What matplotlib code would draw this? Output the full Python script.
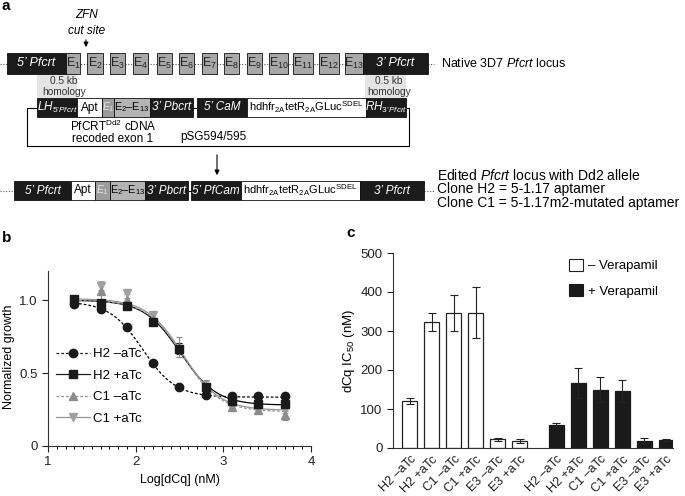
import numpy as np
import matplotlib
matplotlib.use('Agg')
import matplotlib.pyplot as plt
from matplotlib.patches import Rectangle, Patch
from matplotlib.lines import Line2D

plt.rcParams['font.family'] = ['Liberation Sans', 'DejaVu Sans']
plt.rcParams['mathtext.fontset'] = 'custom'
plt.rcParams['mathtext.rm'] = 'Liberation Sans'
plt.rcParams['mathtext.it'] = 'Liberation Sans:italic'
plt.rcParams['mathtext.bf'] = 'Liberation Sans:bold'
plt.rcParams['font.size'] = 9

### Panel b: dose response (normalized growth vs log[dCq])
log_dcq = [1.3, 1.6, 1.9, 2.2, 2.5, 2.8, 3.1, 3.4, 3.7]
h2_minus = [0.977, 0.94, 0.817, 0.572, 0.405, 0.352, 0.34, 0.34, 0.343]
h2_minus_err = [0.01, 0.01, 0.01, 0.01, 0.01, 0.01, 0.01, 0.01, 0.01]
h2_plus = [1.005, 0.984, 0.96, 0.85, 0.668, 0.405, 0.307, 0.29, 0.286]
h2_plus_err = [0.02, 0.02, 0.01, 0.02, 0.04, 0.02, 0.01, 0.01, 0.01]
c1_minus = [1.0, 1.06, 1.0, 0.874, 0.68, 0.405, 0.268, 0.245, 0.21]
c1_minus_err = [0.03, 0.06, 0.04, 0.04, 0.07, 0.05, 0.02, 0.02, 0.03]
c1_plus = [1.0, 1.1, 1.046, 0.897, 0.657, 0.405, 0.268, 0.245, 0.245]
c1_plus_err = [0.03, 0.03, 0.03, 0.03, 0.05, 0.04, 0.02, 0.02, 0.02]
### fitted curve parameters: top, bottom, logIC50, hill
fit_h2_minus = [0.99, 0.335, 2.08, 2.3]
fit_h2_plus = [1.0, 0.28, 2.51, 2.1]
fit_c1_minus = [1.0, 0.235, 2.54, 2.1]
fit_c1_plus = [1.01, 0.245, 2.54, 2.1]

### Panel c: dCq IC50 with / without verapamil
bar_labels = ['H2 –aTc', 'H2 +aTc', 'C1 –aTc', 'C1 +aTc', 'E3 –aTc', 'E3 +aTc']
no_vera = [120, 323, 347, 347, 22, 19]
no_vera_err = [8, 22, 46, 66, 4, 5]
vera = [59, 166, 150, 147, 19, 20]
vera_err = [5, 38, 33, 28, 6, 3]


def logistic(x, p):
    top, bottom, x50, hill = p
    return bottom + (top - bottom) / (1 + 10 ** ((x - x50) * hill))


fig = plt.figure(figsize=(6.85, 4.96), dpi=100)

### overlay axes in pixel coords for the schematic
ax_a = fig.add_axes([0, 0, 1, 1])
ax_a.set_xlim(0, 685)
ax_a.set_ylim(496, 0)
ax_a.axis('off')
ax_a.patch.set_alpha(0)

BLACK = '#1b1b1b'
EXON = '#a8a8a8'


def box(x0, x1, yc, h, fc, label='', tc='white', style='italic', fs=8.5):
    ax_a.add_patch(Rectangle((x0, yc - h / 2), x1 - x0, h, facecolor=fc,
                             edgecolor='#111111', lw=0.6, zorder=2))
    if label:
        ax_a.text((x0 + x1) / 2, yc, label, color=tc, fontsize=fs, style=style,
                  ha='center', va='center', zorder=3)


def dotted(x0, x1, y):
    ax_a.plot([x0, x1], [y, y], ls=(0, (1, 1.5)), color='#555555', lw=0.8, zorder=1)


ax_a.text(2, 6, 'a', fontsize=11, fontweight='bold', ha='left', va='center')
ax_a.text(2, 238, 'b', fontsize=11, fontweight='bold', ha='left', va='center')
ax_a.text(346, 233, 'c', fontsize=11, fontweight='bold', ha='left', va='center')

### native locus
y1 = 63.5
dotted(0, 434, y1)
box(7, 66, y1, 21, BLACK, '5’ Pfcrt', fs=9)
exon_x = [(66, 80), (87, 103), (110, 125), (133, 148), (157, 172), (179, 194), (202, 217),
          (224, 239), (247, 262), (269, 288), (293, 313), (319, 339), (345, 363)]
for k, (x0, x1) in enumerate(exon_x):
    box(x0, x1, y1, 21, EXON, 'E$_\\mathregular{%d}$' % (k + 1), tc='#222222', style='normal', fs=9)
box(363, 428, y1, 21, BLACK, '3’ Pfcrt', fs=9)
ax_a.text(441, y1, 'Native 3D7 $\\mathit{Pfcrt}$ locus', fontsize=9, ha='left', va='center')

ax_a.text(87, 15, 'ZFN', fontsize=8.5, style='italic', ha='center', va='center')
ax_a.text(87, 31, 'cut site', fontsize=8.5, style='italic', ha='center', va='center')
ax_a.annotate('', xy=(86, 50), xytext=(86, 37),
              arrowprops=dict(arrowstyle='-|>', color='k', lw=0.8, mutation_scale=7))

### homology shading
for x0, x1, xt in [(37, 77, 64), (365, 406, 389)]:
    ax_a.add_patch(Rectangle((x0, 74), x1 - x0, 24, facecolor='#e4e4e4', edgecolor='none', zorder=0))
    ax_a.text(xt, 81, '0.5 kb', fontsize=7.3, color='#333333', ha='center', va='center')
    ax_a.text(xt, 92, 'homology', fontsize=7.3, color='#333333', ha='center', va='center')

### plasmid
y2 = 107.5
ax_a.plot([37, 27, 27, 409, 409, 406], [y2, y2, 146, 146, y2, y2], color='k', lw=0.8, zorder=1)
ax_a.plot([193, 197], [y2, y2], color='k', lw=0.8, zorder=1)
box(37, 77, y2, 19.5, BLACK, '$\\mathit{LH}_{\\mathit{5’Pfcrt}}$')
box(77, 102, y2, 19.5, 'white', 'Apt', tc='k', style='normal')
box(102, 114, y2, 19.5, '#9c9c9c', '$\\mathit{E}_{\\mathit{1}}$', tc='#e6e6e6', fs=7.5)
box(114, 150, y2, 19.5, '#b4b4b4', 'E$_\\mathregular{2}$–E$_\\mathregular{13}$', tc='k', style='normal', fs=7.8)
box(150, 193, y2, 19.5, BLACK, '3’ Pbcrt')
box(197, 247, y2, 19.5, BLACK, '5’ CaM')
box(247, 366, y2, 19.5, 'white',
    'hdhfr$_\\mathregular{2A}$tetR$_\\mathregular{2A}$GLuc$^\\mathregular{SDEL}$', tc='k', style='normal', fs=8)
box(366, 406, y2, 19.5, BLACK, '$\\mathit{RH}_{\\mathit{3’Pfcrt}}$')
ax_a.text(113, 126, 'PfCRT$^\\mathregular{Dd2}$ cDNA', fontsize=8.5, ha='center', va='center')
ax_a.text(113, 139, 'recoded exon 1', fontsize=8.5, ha='center', va='center')
ax_a.text(213, 137, 'pSG594/595', fontsize=8.5, ha='center', va='center')
ax_a.annotate('', xy=(217, 178), xytext=(217, 152),
              arrowprops=dict(arrowstyle='-|>', color='k', lw=0.8, mutation_scale=7))

### edited locus
y3 = 190.5
dotted(0, 14, y3)
dotted(424, 434, y3)
ax_a.plot([188, 191], [y3, y3], color='k', lw=0.8, zorder=1)
box(14, 71, y3, 19.5, BLACK, '5’ Pfcrt')
box(71, 95, y3, 19.5, 'white', 'Apt', tc='k', style='normal')
box(95, 110, y3, 19.5, '#9c9c9c', '$\\mathit{E}_{\\mathit{1}}$', tc='#e6e6e6', fs=7.5)
box(110, 145, y3, 19.5, '#b4b4b4', 'E$_\\mathregular{2}$–E$_\\mathregular{13}$', tc='k', style='normal', fs=7.8)
box(145, 188, y3, 19.5, BLACK, '3’ Pbcrt')
box(191, 241, y3, 19.5, BLACK, '5’ PfCam')
box(241, 360, y3, 19.5, 'white',
    'hdhfr$_\\mathregular{2A}$tetR$_\\mathregular{2A}$GLuc$^\\mathregular{SDEL}$', tc='k', style='normal', fs=8)
box(360, 424, y3, 19.5, BLACK, '3’ Pfcrt')
ax_a.text(437, 175, 'Edited $\\mathit{Pfcrt}$ locus with Dd2 allele', fontsize=10, ha='left', va='center')
ax_a.text(437, 189, 'Clone H2 = 5-1.17 aptamer', fontsize=10, ha='left', va='center')
ax_a.text(437, 203, 'Clone C1 = 5-1.17m2-mutated aptamer', fontsize=10, ha='left', va='center')

### Panel b
ax_b = fig.add_axes([48 / 685, 50 / 496, 263 / 685, 175 / 496])
ax_b.patch.set_alpha(0)
xs = np.linspace(log_dcq[0], log_dcq[-1], 200)
gray = '#959595'
ax_b.plot(xs, logistic(xs, fit_h2_minus), color='k', lw=0.9, ls=(0, (2.2, 1.6)))
ax_b.plot(xs, logistic(xs, fit_h2_plus), color='k', lw=0.9)
ax_b.plot(xs, logistic(xs, fit_c1_minus), color=gray, lw=0.9, ls=(0, (2.2, 1.6)))
ax_b.plot(xs, logistic(xs, fit_c1_plus), color=gray, lw=0.9)
ekw = dict(ls='none', capsize=2.5, elinewidth=0.8, capthick=0.8)
ax_b.errorbar(log_dcq, c1_plus, yerr=c1_plus_err, marker='v', ms=6, color='#a0a0a0', **ekw)
ax_b.errorbar(log_dcq, c1_minus, yerr=c1_minus_err, marker='^', ms=6, color='#8c8c8c', **ekw)
ax_b.errorbar(log_dcq, h2_plus, yerr=h2_plus_err, marker='s', ms=5.5, color='#1a1a1a', **ekw)
ax_b.errorbar(log_dcq, h2_minus, yerr=h2_minus_err, marker='o', ms=6, color='#1a1a1a', **ekw)
ax_b.set_xlim(1, 4)
ax_b.set_ylim(0, 1.2)
ax_b.set_xticks([1, 2, 3, 4])
ax_b.set_xticks(np.arange(1.1, 4.0, 0.1), minor=True)
ax_b.set_yticks([0, 0.5, 1.0])
ax_b.set_yticklabels(['0', '0.5', '1.0'])
ax_b.tick_params(axis='both', which='major', length=4, width=0.8, labelsize=9.5, colors='#222222')
ax_b.tick_params(axis='x', which='minor', length=2.5, width=0.7)
for s in ['top', 'right']:
    ax_b.spines[s].set_visible(False)
for s in ['left', 'bottom']:
    ax_b.spines[s].set_linewidth(0.8)
    ax_b.spines[s].set_color('#333333')
ax_b.set_xlabel('Log[dCq] (nM)', fontsize=9)
ax_b.set_ylabel('Normalized growth', fontsize=9)
ax_b.xaxis.set_label_coords(0.5, -0.16)
ax_b.yaxis.set_label_coords(-0.125, 0.51)
handles = [Line2D([], [], color='#1a1a1a', ls=(0, (2.2, 1.6)), lw=0.9, marker='o', ms=6),
           Line2D([], [], color='#1a1a1a', lw=0.9, marker='s', ms=5.5),
           Line2D([], [], color=gray, ls=(0, (2.2, 1.6)), lw=0.9, marker='^', ms=6, mfc='#8c8c8c', mec='#8c8c8c'),
           Line2D([], [], color=gray, lw=0.9, marker='v', ms=6, mfc='#a0a0a0', mec='#a0a0a0')]
ax_b.legend(handles, ['H2 –aTc', 'H2 +aTc', 'C1 –aTc', 'C1 +aTc'], loc='upper left',
            bbox_to_anchor=(0.03, 0.56), frameon=False, handlelength=2.6, handletextpad=0.25,
            labelspacing=0.7, borderpad=0, borderaxespad=0, fontsize=9.5, numpoints=1)

### Panel c
ax_c = fig.add_axes([393 / 685, 48 / 496, 280 / 685, 195 / 496])
ax_c.patch.set_alpha(0)
pos_w = np.arange(len(bar_labels))
pos_b = np.arange(len(bar_labels)) + 6.68
ax_c.bar(pos_w, no_vera, width=0.68, color='white', edgecolor='#222222', lw=0.9)
ax_c.bar(pos_b, vera, width=0.68, color='#1a1a1a', edgecolor='#1a1a1a', lw=0.9)
ax_c.errorbar(pos_w, no_vera, yerr=no_vera_err, ls='none', color='#222222', capsize=3,
              elinewidth=0.8, capthick=0.8)
ax_c.errorbar(pos_b, vera, yerr=vera_err, ls='none', color='#222222', capsize=3,
              elinewidth=0.8, capthick=0.8)
ax_c.set_xlim(-0.77, 12.0)
ax_c.set_ylim(0, 500)
ax_c.set_yticks(range(0, 501, 100))
ax_c.set_xticks(list(pos_w) + list(pos_b))
ax_c.set_xticklabels(bar_labels + bar_labels, rotation=45, ha='right', rotation_mode='anchor')
ax_c.tick_params(axis='x', length=0, pad=4, labelsize=9, colors='#222222')
ax_c.tick_params(axis='y', length=4, width=0.8, labelsize=9.5, colors='#222222')
for s in ['top', 'right']:
    ax_c.spines[s].set_visible(False)
for s in ['left', 'bottom']:
    ax_c.spines[s].set_linewidth(0.8)
    ax_c.spines[s].set_color('#333333')
ax_c.set_ylabel('dCq IC$_\\mathregular{50}$ (nM)', fontsize=9.5)
ax_c.yaxis.set_label_coords(-0.13, 0.5)
leg_handles = [Patch(facecolor='white', edgecolor='#222222', lw=0.8),
               Patch(facecolor='#1a1a1a', edgecolor='#1a1a1a', lw=0.8)]
ax_c.legend(leg_handles, ['– Verapamil', '+ Verapamil'], loc='upper left',
            bbox_to_anchor=(0.63, 0.97), frameon=False, handlelength=1.0, handleheight=1.0,
            handletextpad=0.4, labelspacing=0.9, borderpad=0, borderaxespad=0, fontsize=9.5)

fig.savefig('out.png', dpi=100)
